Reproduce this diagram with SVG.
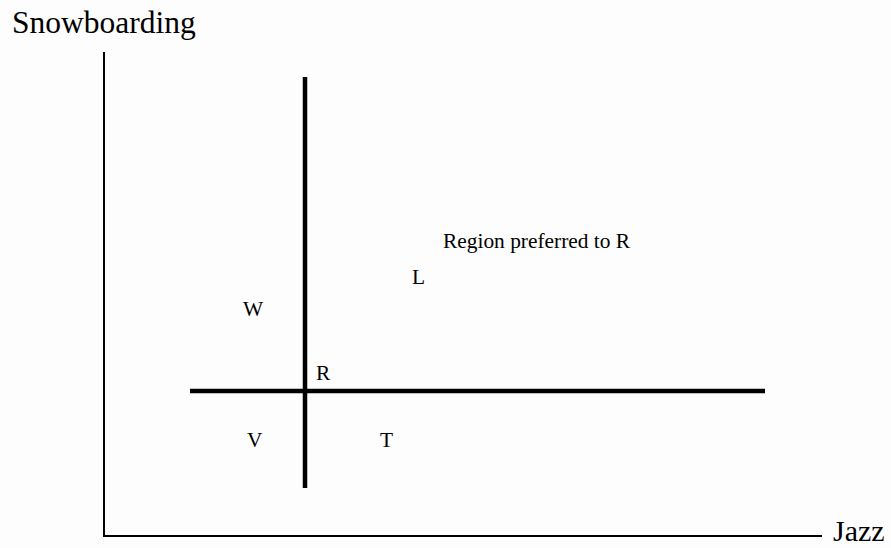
<svg xmlns="http://www.w3.org/2000/svg" width="891" height="548" viewBox="0 0 891 548">
<style>
.big{font-family:"Liberation Serif","Times New Roman",serif;font-size:31.5px;fill:#000}
.lbl{font-family:"Liberation Serif","Times New Roman",serif;font-size:21.4px;fill:#000}
.axis{stroke:#000;stroke-width:2;fill:none}
.thick{stroke:#000;stroke-width:4.5;fill:none}
</style>
<rect width="891" height="548" fill="#fdfdfd"/>
<g id="connectors">
<polyline class="axis" points="104,52 104,536 822,536"/>
<line class="thick" x1="305" y1="77" x2="305" y2="488"/>
<line class="thick" x1="190" y1="391" x2="765" y2="391"/>
</g>
<g id="axis-y"><text class="big" x="12" y="33">Snowboarding</text></g>
<g id="axis-x"><text class="big" x="833" y="541" style="font-size:30px">Jazz</text></g>
<g id="region"><text class="lbl" x="443" y="248">Region preferred to R</text></g>
<g id="L"><text class="lbl" x="412" y="284">L</text></g>
<g id="W"><text class="lbl" x="243" y="316">W</text></g>
<g id="R"><text class="lbl" x="316" y="380">R</text></g>
<g id="V"><text class="lbl" x="247" y="447">V</text></g>
<g id="T"><text class="lbl" x="380" y="447">T</text></g>
</svg>
